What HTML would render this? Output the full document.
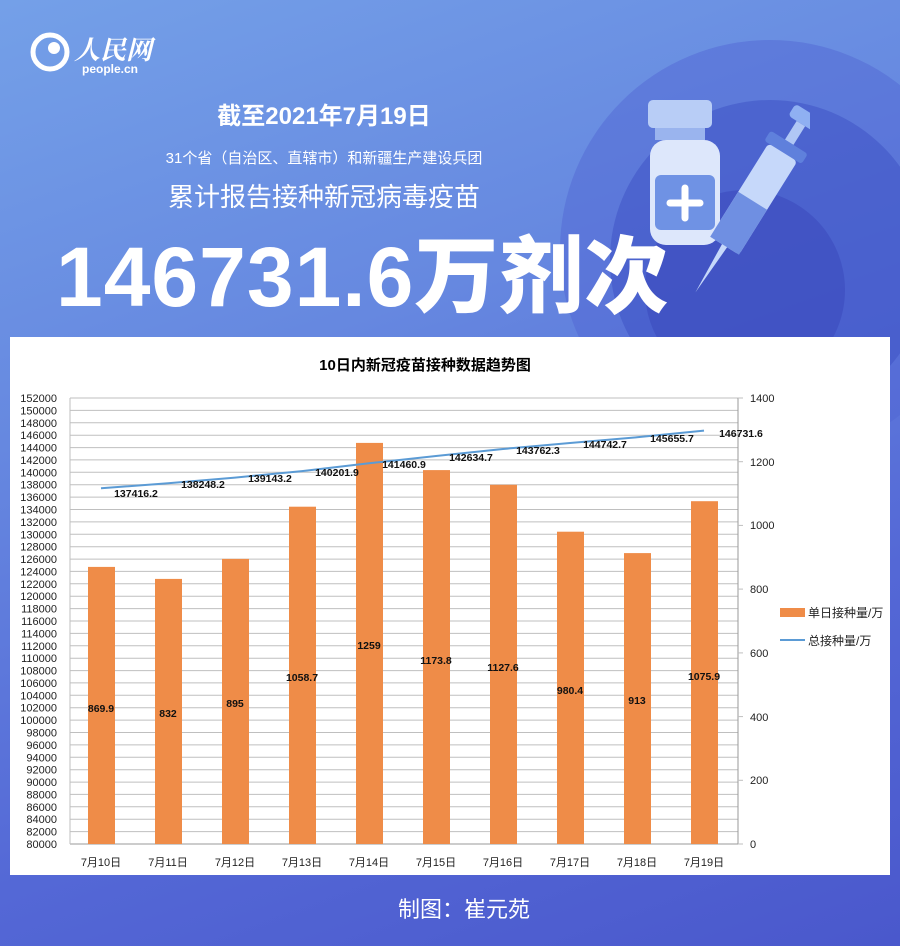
<!DOCTYPE html>
<html><head><meta charset="utf-8"><style>
html,body{margin:0;padding:0}
body{width:900px;height:946px;overflow:hidden;position:relative;font-family:"Liberation Sans","Noto Sans CJK SC",sans-serif;background:linear-gradient(160deg,#74a0e8 0%,#6688e0 35%,#5468d6 70%,#4a58cc 100%)}
.t{position:absolute;left:0;width:900px;color:#fff;text-align:center}
</style></head><body>
<div style="position:absolute;left:560px;top:40px;width:420px;height:420px;border-radius:50%;background:rgba(80,100,210,0.45)"></div>
<div style="position:absolute;left:610px;top:100px;width:320px;height:320px;border-radius:50%;background:rgba(60,80,195,0.5)"></div>
<div style="position:absolute;left:645px;top:190px;width:200px;height:200px;border-radius:50%;background:rgba(60,75,190,0.6)"></div>
<svg style="position:absolute;left:630px;top:95px" width="180" height="210" viewBox="0 0 180 210">
<rect x="18" y="5" width="64" height="28" rx="5" fill="#b8cdf6"/>
<rect x="25" y="33" width="50" height="12" fill="#9ab4ee"/>
<rect x="20" y="45" width="70" height="105" rx="16" fill="#dde7fb"/>
<rect x="25" y="80" width="60" height="55" rx="6" fill="#6f92e4"/>
<path d="M55 93v30M40 108h30" stroke="#fff" stroke-width="7" stroke-linecap="round"/>
<g transform="rotate(32 120 110)">
<rect x="105" y="0" width="30" height="14" rx="4" fill="#8fb0f2"/>
<rect x="115" y="14" width="10" height="22" fill="#b0c7f5"/>
<rect x="98" y="36" width="44" height="12" rx="3" fill="#5f80dc"/>
<rect x="103" y="48" width="34" height="110" rx="4" fill="#c6d8fa"/>
<rect x="103" y="105" width="34" height="53" fill="#6f8fe2"/>
<path d="M117 158h6l-3 55z" fill="#c6d8fa"/>
</g></svg>
<svg style="position:absolute;left:30px;top:32px" width="40" height="40"><circle cx="20" cy="20" r="17" fill="none" stroke="#fff" stroke-width="5"/><circle cx="24" cy="16" r="6" fill="#fff"/></svg>
<div style="position:absolute;left:74px;top:30px;color:#fff;font-size:26px;font-style:italic;font-family:'Noto Serif CJK SC',serif;font-weight:bold">人民网</div>
<div style="position:absolute;left:82px;top:62px;color:#fff;font-size:12px;font-weight:bold">people.cn</div>
<div class="t" style="top:96px;left:-126px;font-size:24px;font-weight:bold">截至2021年7月19日</div>
<div class="t" style="top:147px;left:-126px;font-size:15px">31个省（自治区、直辖市）和新疆生产建设兵团</div>
<div class="t" style="top:177px;left:-126px;font-size:26px">累计报告接种新冠病毒疫苗</div>
<div style="position:absolute;left:56px;top:210px;color:#fff;font-size:84px;font-weight:900;letter-spacing:1px;font-family:'Liberation Sans','Noto Sans CJK SC',sans-serif">146731.6万剂次</div>
<div style="position:absolute;left:10px;top:337px;width:880px;height:538px;background:#fff"></div>
<svg style="position:absolute;left:0;top:0" width="900" height="946" font-family="Liberation Sans,Noto Sans CJK SC,sans-serif">
<text x="425" y="370" font-size="15" font-weight="bold" text-anchor="middle">10日内新冠疫苗接种数据趋势图</text>
<g stroke="#bfbfbf" stroke-width="1">
<line x1="70" x2="738" y1="844" y2="844" stroke="#999"/><line x1="70" x2="738" y1="831.6" y2="831.6"/><line x1="70" x2="738" y1="819.2" y2="819.2"/><line x1="70" x2="738" y1="806.8" y2="806.8"/><line x1="70" x2="738" y1="794.4" y2="794.4"/><line x1="70" x2="738" y1="782.1" y2="782.1"/><line x1="70" x2="738" y1="769.7" y2="769.7"/><line x1="70" x2="738" y1="757.3" y2="757.3"/><line x1="70" x2="738" y1="744.9" y2="744.9"/><line x1="70" x2="738" y1="732.5" y2="732.5"/><line x1="70" x2="738" y1="720.1" y2="720.1"/><line x1="70" x2="738" y1="707.7" y2="707.7"/><line x1="70" x2="738" y1="695.3" y2="695.3"/><line x1="70" x2="738" y1="682.9" y2="682.9"/><line x1="70" x2="738" y1="670.6" y2="670.6"/><line x1="70" x2="738" y1="658.2" y2="658.2"/><line x1="70" x2="738" y1="645.8" y2="645.8"/><line x1="70" x2="738" y1="633.4" y2="633.4"/><line x1="70" x2="738" y1="621" y2="621"/><line x1="70" x2="738" y1="608.6" y2="608.6"/><line x1="70" x2="738" y1="596.2" y2="596.2"/><line x1="70" x2="738" y1="583.8" y2="583.8"/><line x1="70" x2="738" y1="571.4" y2="571.4"/><line x1="70" x2="738" y1="559.1" y2="559.1"/><line x1="70" x2="738" y1="546.7" y2="546.7"/><line x1="70" x2="738" y1="534.3" y2="534.3"/><line x1="70" x2="738" y1="521.9" y2="521.9"/><line x1="70" x2="738" y1="509.5" y2="509.5"/><line x1="70" x2="738" y1="497.1" y2="497.1"/><line x1="70" x2="738" y1="484.7" y2="484.7"/><line x1="70" x2="738" y1="472.3" y2="472.3"/><line x1="70" x2="738" y1="459.9" y2="459.9"/><line x1="70" x2="738" y1="447.6" y2="447.6"/><line x1="70" x2="738" y1="435.2" y2="435.2"/><line x1="70" x2="738" y1="422.8" y2="422.8"/><line x1="70" x2="738" y1="410.4" y2="410.4"/><line x1="70" x2="738" y1="398" y2="398"/>
<line x1="70" x2="70" y1="398" y2="844"/><line x1="738" x2="738" y1="398" y2="844" stroke="#999"/>
<line x1="738" x2="743" y1="398" y2="398"/><line x1="738" x2="743" y1="461.7" y2="461.7"/><line x1="738" x2="743" y1="525.4" y2="525.4"/><line x1="738" x2="743" y1="589.1" y2="589.1"/><line x1="738" x2="743" y1="652.9" y2="652.9"/><line x1="738" x2="743" y1="716.6" y2="716.6"/><line x1="738" x2="743" y1="780.3" y2="780.3"/><line x1="738" x2="743" y1="844" y2="844"/>
</g>
<g font-size="11" text-anchor="end" fill="#222">
<text x="57" y="848">80000</text><text x="57" y="835.6">82000</text><text x="57" y="823.2">84000</text><text x="57" y="810.8">86000</text><text x="57" y="798.4">88000</text><text x="57" y="786.1">90000</text><text x="57" y="773.7">92000</text><text x="57" y="761.3">94000</text><text x="57" y="748.9">96000</text><text x="57" y="736.5">98000</text><text x="57" y="724.1">100000</text><text x="57" y="711.7">102000</text><text x="57" y="699.3">104000</text><text x="57" y="686.9">106000</text><text x="57" y="674.6">108000</text><text x="57" y="662.2">110000</text><text x="57" y="649.8">112000</text><text x="57" y="637.4">114000</text><text x="57" y="625">116000</text><text x="57" y="612.6">118000</text><text x="57" y="600.2">120000</text><text x="57" y="587.8">122000</text><text x="57" y="575.4">124000</text><text x="57" y="563.1">126000</text><text x="57" y="550.7">128000</text><text x="57" y="538.3">130000</text><text x="57" y="525.9">132000</text><text x="57" y="513.5">134000</text><text x="57" y="501.1">136000</text><text x="57" y="488.7">138000</text><text x="57" y="476.3">140000</text><text x="57" y="463.9">142000</text><text x="57" y="451.6">144000</text><text x="57" y="439.2">146000</text><text x="57" y="426.8">148000</text><text x="57" y="414.4">150000</text><text x="57" y="402">152000</text>
</g>
<g font-size="11" fill="#222">
<text x="750" y="402">1400</text><text x="750" y="466">1200</text><text x="750" y="529">1000</text><text x="750" y="593">800</text><text x="750" y="657">600</text><text x="750" y="721">400</text><text x="750" y="784">200</text><text x="750" y="848">0</text>
</g>
<g fill="#ef8c48">
<rect x="88" y="566.9" width="27" height="277.1"/><rect x="155" y="578.9" width="27" height="265.1"/><rect x="222" y="558.9" width="27" height="285.1"/><rect x="289" y="506.7" width="27" height="337.3"/><rect x="356" y="442.9" width="27" height="401.1"/><rect x="423" y="470.1" width="27" height="373.9"/><rect x="490" y="484.8" width="27" height="359.2"/><rect x="557" y="531.7" width="27" height="312.3"/><rect x="624" y="553.1" width="27" height="290.9"/><rect x="691" y="501.2" width="27" height="342.8"/>
</g>
<g font-size="10.5" font-weight="bold" text-anchor="middle" fill="#111">
<text x="101" y="712">869.9</text><text x="168" y="717">832</text><text x="235" y="707">895</text><text x="302" y="681">1058.7</text><text x="369" y="649">1259</text><text x="436" y="664">1173.8</text><text x="503" y="671">1127.6</text><text x="570" y="694">980.4</text><text x="637" y="704">913</text><text x="704" y="680">1075.9</text>
</g>
<polyline fill="none" stroke="#5b9bd5" stroke-width="2" points="101,488.3 168,483.2 235,477.6 302,471.1 369,463.3 436,456 503,449 570,443 637,437.3 704,430.6"/>
<g font-size="10.5" font-weight="bold" text-anchor="middle" fill="#111">
<text x="136" y="497">137416.2</text><text x="203" y="488">138248.2</text><text x="270" y="482">139143.2</text><text x="337" y="476">140201.9</text><text x="404" y="468">141460.9</text><text x="471" y="461">142634.7</text><text x="538" y="454">143762.3</text><text x="605" y="448">144742.7</text><text x="672" y="442">145655.7</text><text x="741" y="437">146731.6</text>
</g>
<g font-size="11" text-anchor="middle" fill="#222">
<text x="101" y="866">7月10日</text><text x="168" y="866">7月11日</text><text x="235" y="866">7月12日</text><text x="302" y="866">7月13日</text><text x="369" y="866">7月14日</text><text x="436" y="866">7月15日</text><text x="503" y="866">7月16日</text><text x="570" y="866">7月17日</text><text x="637" y="866">7月18日</text><text x="704" y="866">7月19日</text>
</g>
<rect x="780" y="608" width="25" height="9" fill="#ef8c48"/>
<text x="808" y="617" font-size="12" fill="#222">单日接种量/万</text>
<line x1="780" x2="805" y1="640" y2="640" stroke="#5b9bd5" stroke-width="2"/>
<text x="808" y="645" font-size="12" fill="#222">总接种量/万</text>
</svg>
<div class="t" style="top:892px;font-size:22px;left:14px;width:900px">制图：崔元苑</div>
</body></html>
